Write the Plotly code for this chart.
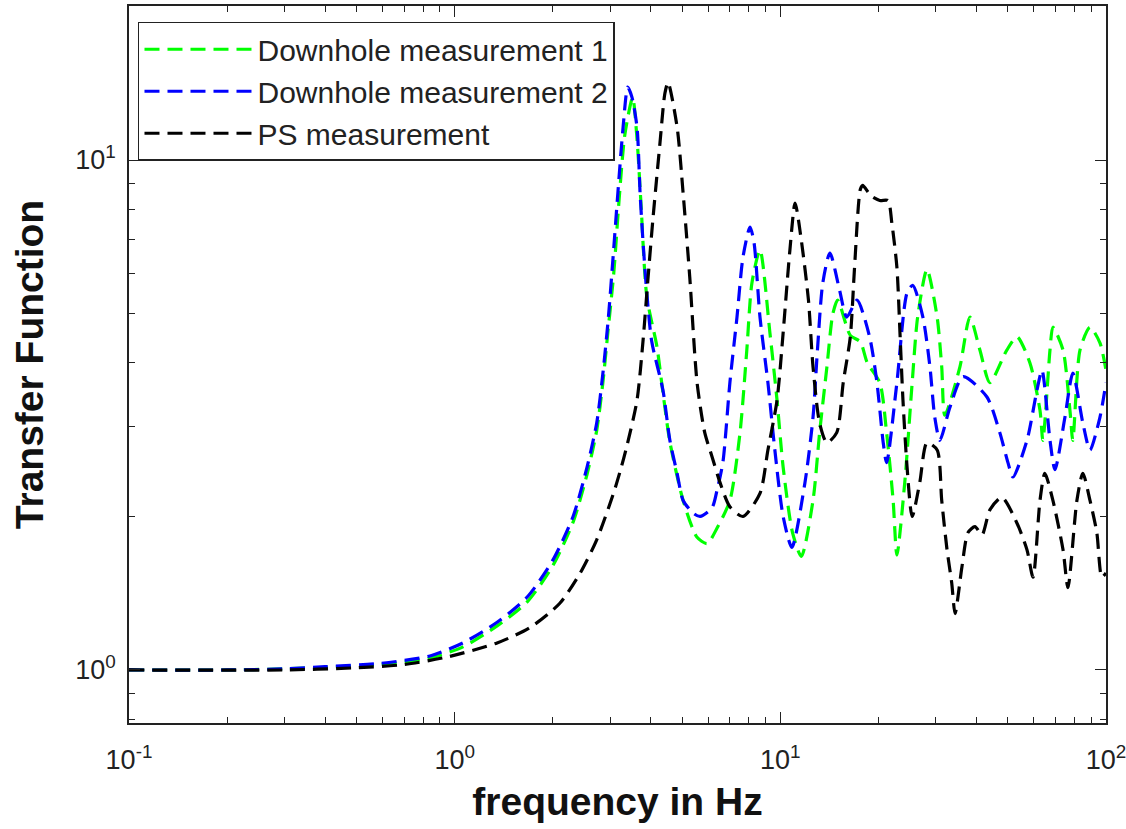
import plotly.graph_objects as go

# ---- data ----
freq_dh1 = [0.1, 0.2, 0.3, 0.4, 0.59, 0.84, 1.06, 1.35, 1.67, 2.0, 2.31, 2.55, 2.73, 2.85, 2.96,
            3.08, 3.2, 3.33, 3.52, 3.63, 3.73, 3.89, 4.18, 4.36, 4.58, 5.03, 5.55, 5.96, 6.4, 7.0,
            7.52, 7.89, 8.18, 8.66, 9.29, 9.77, 10.2, 10.9, 11.6, 12.6, 13.2, 13.9, 14.5, 15.0,
            16.4, 17.6, 18.5, 20.2, 21.2, 22.2, 22.8, 24.1, 25.4, 26.4, 28.2, 30.3, 31.3, 32.0,
            35.6, 38.2, 41.0, 44.0, 49.6, 53.3, 58.4, 62.7, 64.0, 67.3, 68.7, 73.8, 77.5, 79.1,
            83.2, 89.3, 95.8, 100]
val_dh1 = [1.0, 1.0, 1.005, 1.012, 1.025, 1.055, 1.11, 1.22, 1.36, 1.6, 1.95, 2.42, 2.95, 3.65, 4.65,
           6.0, 8.4, 11.2, 13.25, 11.0, 8.3, 5.4, 4.3, 3.5, 2.8, 2.15, 1.82, 1.77, 1.9, 2.15,
           2.92, 4.24, 5.74, 6.66, 4.58, 3.38, 2.5, 1.86, 1.67, 2.15, 2.92, 3.93, 5.0, 5.31,
           4.53, 4.4, 4.0, 3.66, 2.92, 2.15, 1.68, 2.33, 3.66, 4.92, 6.1, 4.92, 3.93, 3.16,
           3.93, 4.92, 4.24, 3.66, 4.24, 4.5, 4.0, 3.23, 2.82, 4.24, 4.7, 4.24, 3.23, 2.82,
           4.24, 4.7, 4.38, 3.87]

freq_dh2 = [0.1, 0.2, 0.3, 0.4, 0.59, 0.84, 1.06, 1.35, 1.67, 2.0, 2.31, 2.55, 2.73, 2.85, 2.96,
            3.06, 3.17, 3.29, 3.40, 3.50, 3.63, 3.71, 3.79, 3.89, 4.03, 4.36, 4.58, 4.82, 5.03,
            5.40, 5.67, 6.17, 6.39, 6.66, 7.0, 7.36, 7.68, 8.07, 8.3, 8.66, 9.16, 9.62, 10.2,
            10.85, 11.9, 12.6, 13.0, 13.5, 14.2, 15.2, 16.0, 17.2, 18.8, 19.8, 20.7, 21.2, 22.8,
            24.5, 25.5, 27.4, 28.8, 29.8, 30.9, 33.2, 36.4, 43.1, 47.2, 50.0, 51.8, 57.2, 61.4,
            63.6, 67.3, 69.7, 74.8, 79.1, 84.9, 89.3, 95.8, 100]
val_dh2 = [1.0, 1.0, 1.005, 1.015, 1.03, 1.065, 1.13, 1.24, 1.39, 1.64, 2.0, 2.5, 3.05, 3.8, 4.85,
           6.36, 8.6, 11.6, 13.9, 13.3, 11.6, 8.6, 6.87, 5.49, 4.4, 3.54, 2.82, 2.43, 2.15,
           2.03, 2.0, 2.08, 2.25, 2.55, 3.66, 4.92, 6.45, 7.39, 6.9, 4.92, 3.66, 2.70, 2.0,
           1.74, 2.33, 3.13, 4.24, 5.74, 6.57, 5.56, 4.92, 5.31, 4.5, 3.66, 2.79, 2.55, 3.66,
           5.49, 5.68, 4.92, 3.93, 3.13, 2.82, 3.28, 3.76, 3.43, 2.92, 2.55, 2.39, 2.82, 3.54,
           3.87, 2.82, 2.47, 3.13, 3.82, 3.05, 2.70, 3.13, 3.66]

freq_ps = [0.1, 0.3, 0.5, 0.7, 0.946, 1.35, 1.70, 2.10, 2.43, 2.73, 3.06, 3.22, 3.38, 3.63, 3.79,
           3.92, 4.06, 4.27, 4.42, 4.52, 4.82, 5.03, 5.27, 5.55, 5.86, 6.17, 6.53, 7.0, 7.68, 8.66,
           9.16, 9.77, 10.2, 10.7, 11.1, 11.6, 12.2, 12.6, 13.2, 13.9, 14.9, 15.6, 16.4, 16.9,
           17.6, 17.9, 19.0, 20.2, 21.4, 22.0, 22.8, 23.3, 23.8, 24.5, 25.4, 26.8, 28.2, 30.3,
           31.3, 32.5, 33.6, 34.4, 36.1, 37.7, 39.6, 41.6, 44.0, 47.9, 53.3, 57.2, 59.7, 62.7,
           64.9, 68.7, 73.8, 76.4, 81.4, 84.9, 89.3, 93.7, 97.1, 100]
val_ps = [1.0, 1.0, 1.01, 1.025, 1.06, 1.13, 1.21, 1.35, 1.55, 1.80, 2.2, 2.45, 2.75, 3.38, 4.44,
          5.82, 7.63, 10.8, 13.5, 14.2, 11.6, 8.6, 5.9, 3.66, 2.92, 2.62, 2.33, 2.09, 2.0, 2.22,
          2.70, 3.38, 4.58, 6.66, 8.23, 6.96, 5.31, 3.93, 3.05, 2.79, 2.92, 3.66, 4.5, 6.16,
          8.75, 8.92, 8.5, 8.33, 8.33, 7.52, 6.16, 4.58, 3.38, 2.5, 2.0, 2.33, 2.79, 2.70,
          2.15, 1.72, 1.48, 1.29, 1.59, 1.86, 1.91, 1.84, 2.06, 2.18, 1.94, 1.72, 1.52, 2.15,
          2.43, 2.15, 1.72, 1.45, 2.15, 2.43, 2.15, 1.86, 1.52, 1.55]

series_names = ["Downhole measurement 1", "Downhole measurement 2", "PS measurement"]
series_colors = ["#00FF00", "#0000FF", "#000000"]

x_major = [0.1, 1, 10, 100]
x_major_text = ["10<sup>-1</sup>", "10<sup>0</sup>", "10<sup>1</sup>", "10<sup>2</sup>"]
x_minor = [m * d for d in (0.1, 1, 10) for m in range(2, 10)]
y_major = [1, 10]
y_major_text = ["10<sup>0</sup>", "10<sup>1</sup>"]
y_minor = [0.8, 0.9] + [m * d for d in (1, 10) for m in range(2, 10) if m * d <= 20]

FONT = "Liberation Sans, Arial, sans-serif"

fig = go.Figure()
for fx, fy, name, col in zip([freq_dh1, freq_dh2, freq_ps], [val_dh1, val_dh2, val_ps],
                             series_names, series_colors):
    fig.add_trace(go.Scatter(
        x=fx, y=fy, mode="lines", name=name,
        line=dict(color=col, width=3.2, dash="15px,8px", shape="spline", smoothing=0.7),
    ))

axis_common = dict(
    showline=True, linecolor="#222", linewidth=1.5, mirror="allticks",
    ticks="inside", ticklen=11, tickcolor="#222", tickwidth=1.2,
    showgrid=False, zeroline=False,
    tickfont=dict(family=FONT, size=27, color="#222"),
    ticklabeloverflow="allow", automargin=False,
)

fig.update_xaxes(
    type="log", range=[-1, 2], tickvals=x_major, ticktext=x_major_text,
    minor=dict(tickvals=x_minor, ticks="inside", ticklen=6, tickcolor="#222", showgrid=False),
    title=dict(text="<b>frequency in Hz</b>", standoff=14,
               font=dict(family=FONT, size=39, color="#111")),
    ticklabelstandoff=12,
    **axis_common,
)
fig.update_yaxes(
    type="log", range=[-0.104, 1.302], tickvals=y_major, ticktext=y_major_text,
    minor=dict(tickvals=y_minor, ticks="inside", ticklen=6, tickcolor="#222", showgrid=False),
    title=dict(text="<b>Transfer Function</b>", standoff=20,
               font=dict(family=FONT, size=39, color="#111")),
    ticklabelstandoff=6,
    **axis_common,
)

fig.update_layout(
    width=1126, height=829,
    margin=dict(l=129, r=20, t=6, b=106),
    paper_bgcolor="white", plot_bgcolor="white",
    showlegend=True,
    legend=dict(
        x=0.0092, y=0.978, xanchor="left", yanchor="top",
        bgcolor="white", bordercolor="#222", borderwidth=1.5,
        font=dict(family=FONT, size=30, color="#222"),
        itemwidth=108, tracegroupgap=0,
    ),
)

fig.write_html("out.html")
